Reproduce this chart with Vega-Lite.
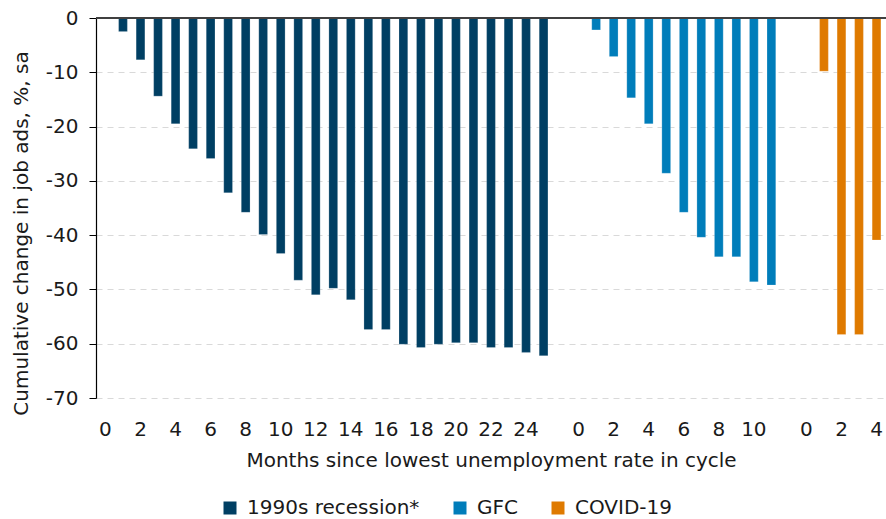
{
  "$schema": "https://vega.github.io/schema/vega-lite/v6.json",
  "width": 790,
  "height": 380,
  "autosize": {"type": "none"},
  "padding": {"left": 96, "top": 18, "right": 0, "bottom": 121},
  "background": "white",
  "config": {
    "font": "DejaVu Sans",
    "view": {"stroke": null}
  },
  "data": {
    "values": [
      {"cycle": "1990s recession*", "month": 0, "change": 0},
      {"cycle": "1990s recession*", "month": 1, "change": -2.5},
      {"cycle": "1990s recession*", "month": 2, "change": -7.7},
      {"cycle": "1990s recession*", "month": 3, "change": -14.4},
      {"cycle": "1990s recession*", "month": 4, "change": -19.5},
      {"cycle": "1990s recession*", "month": 5, "change": -24.1},
      {"cycle": "1990s recession*", "month": 6, "change": -25.9},
      {"cycle": "1990s recession*", "month": 7, "change": -32.2},
      {"cycle": "1990s recession*", "month": 8, "change": -35.8},
      {"cycle": "1990s recession*", "month": 9, "change": -39.9},
      {"cycle": "1990s recession*", "month": 10, "change": -43.4},
      {"cycle": "1990s recession*", "month": 11, "change": -48.3},
      {"cycle": "1990s recession*", "month": 12, "change": -51.0},
      {"cycle": "1990s recession*", "month": 13, "change": -49.8},
      {"cycle": "1990s recession*", "month": 14, "change": -51.9},
      {"cycle": "1990s recession*", "month": 15, "change": -57.4},
      {"cycle": "1990s recession*", "month": 16, "change": -57.4},
      {"cycle": "1990s recession*", "month": 17, "change": -60.1},
      {"cycle": "1990s recession*", "month": 18, "change": -60.7},
      {"cycle": "1990s recession*", "month": 19, "change": -60.1},
      {"cycle": "1990s recession*", "month": 20, "change": -59.8},
      {"cycle": "1990s recession*", "month": 21, "change": -59.8},
      {"cycle": "1990s recession*", "month": 22, "change": -60.7},
      {"cycle": "1990s recession*", "month": 23, "change": -60.7},
      {"cycle": "1990s recession*", "month": 24, "change": -61.6},
      {"cycle": "1990s recession*", "month": 25, "change": -62.2},
      {"cycle": "GFC", "month": 0, "change": 0},
      {"cycle": "GFC", "month": 1, "change": -2.2},
      {"cycle": "GFC", "month": 2, "change": -7.1},
      {"cycle": "GFC", "month": 3, "change": -14.7},
      {"cycle": "GFC", "month": 4, "change": -19.5},
      {"cycle": "GFC", "month": 5, "change": -28.6},
      {"cycle": "GFC", "month": 6, "change": -35.8},
      {"cycle": "GFC", "month": 7, "change": -40.4},
      {"cycle": "GFC", "month": 8, "change": -44.0},
      {"cycle": "GFC", "month": 9, "change": -44.0},
      {"cycle": "GFC", "month": 10, "change": -48.6},
      {"cycle": "GFC", "month": 11, "change": -49.2},
      {"cycle": "COVID-19", "month": 0, "change": 0},
      {"cycle": "COVID-19", "month": 1, "change": -9.8},
      {"cycle": "COVID-19", "month": 2, "change": -58.3},
      {"cycle": "COVID-19", "month": 3, "change": -58.3},
      {"cycle": "COVID-19", "month": 4, "change": -40.9}
    ]
  },
  "transform": [
    {"calculate": "datum.cycle + ':' + datum.month", "as": "slot"}
  ],
  "layer": [
    {
      "mark": {"type": "bar", "stroke": "white", "strokeOpacity": 0.35, "strokeWidth": 0.6},
      "encoding": {
        "x": {
          "field": "slot",
          "type": "ordinal",
          "scale": {
            "domain": [
              "1990s recession*:0", "1990s recession*:1", "1990s recession*:2", "1990s recession*:3", "1990s recession*:4", "1990s recession*:5", "1990s recession*:6", "1990s recession*:7", "1990s recession*:8", "1990s recession*:9", "1990s recession*:10", "1990s recession*:11", "1990s recession*:12", "1990s recession*:13", "1990s recession*:14", "1990s recession*:15", "1990s recession*:16", "1990s recession*:17", "1990s recession*:18", "1990s recession*:19", "1990s recession*:20", "1990s recession*:21", "1990s recession*:22", "1990s recession*:23", "1990s recession*:24", "1990s recession*:25",
              "gap1",
              "GFC:0", "GFC:1", "GFC:2", "GFC:3", "GFC:4", "GFC:5", "GFC:6", "GFC:7", "GFC:8", "GFC:9", "GFC:10", "GFC:11",
              "gap2",
              "COVID-19:0", "COVID-19:1", "COVID-19:2", "COVID-19:3", "COVID-19:4"
            ],
            "paddingInner": 0.5,
            "paddingOuter": 0.29
          },
          "axis": {
            "title": "Months since lowest unemployment rate in cycle",
            "labelExpr": "indexof(datum.value, ':') < 0 ? '' : (toNumber(split(datum.value, ':')[1]) % 2 == 0 ? split(datum.value, ':')[1] : '')",
            "labelAngle": 0,
            "labelOverlap": false,
            "labelBound": false,
            "labelFontSize": 20,
            "labelColor": "#1a1a1a",
            "labelPadding": 21,
            "ticks": false,
            "domain": false,
            "grid": false,
            "titleFontSize": 20,
            "titleFontWeight": "normal",
            "titleColor": "#1a1a1a",
            "titlePadding": 11
          }
        },
        "y": {
          "field": "change",
          "type": "quantitative",
          "scale": {"domain": [-70, 0], "nice": false},
          "axis": {
            "title": "Cumulative change in job ads, %, sa",
            "values": [0, -10, -20, -30, -40, -50, -60, -70],
            "labelExpr": "datum.value == 0 ? '0' : '-' + abs(datum.value)",
            "labelFontSize": 20,
            "labelColor": "#1a1a1a",
            "labelPadding": 11,
            "tickSize": 7,
            "tickColor": "#000000",
            "domainColor": "#000000",
            "domainWidth": 1.2,
            "grid": true,
            "gridColor": "#d9d9d9",
            "gridDash": [6, 5],
            "gridWidth": 1.2,
            "titleFontSize": 20,
            "titleFontWeight": "normal",
            "titleColor": "#1a1a1a",
            "titlePadding": 14,
            "titleY": 215
          }
        },
        "color": {
          "field": "cycle",
          "type": "nominal",
          "scale": {
            "domain": ["1990s recession*", "GFC", "COVID-19"],
            "range": ["#003F63", "#007DBA", "#DF7A00"]
          },
          "legend": {
            "title": null,
            "orient": "none",
            "direction": "horizontal",
            "legendX": 124,
            "legendY": 480,
            "symbolType": "square",
            "symbolSize": 169,
            "symbolStrokeWidth": 0,
            "labelFontSize": 20,
            "labelLimit": 0,
            "labelColor": "#1a1a1a",
            "labelOffset": 7,
            "columnPadding": 30
          }
        }
      }
    },
    {
      "mark": {"type": "rule", "color": "#404040", "strokeWidth": 2},
      "encoding": {"y": {"datum": 0}}
    }
  ]
}
